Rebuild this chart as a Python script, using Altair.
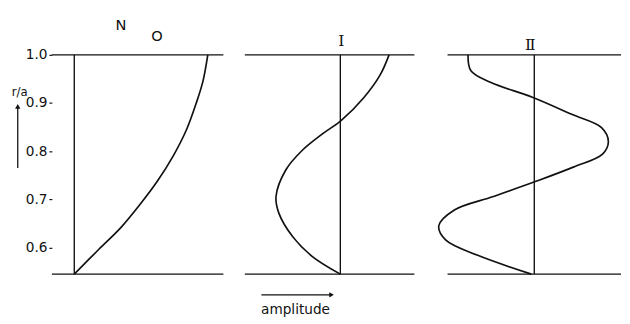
import altair as alt
import pandas as pd

# ---- data ----
R_INNER = 0.545
R_OUTER = 1.0

# mode 0
r0 = [0.545, 0.596, 0.642, 0.691, 0.737, 0.792, 0.844, 0.899, 0.945, 1.0]
a0 = [0, 25, 48, 68, 85, 102, 115, 125, 132, 137]

# mode I
r1 = [1.0, 0.959, 0.911, 0.864, 0.835, 0.802, 0.761, 0.706, 0.671, 0.623, 0.582, 0.545]
a1 = [50, 41, 24, 1, -19, -39, -56, -66, -63, -49, -29, 0]

# mode II
r2 = [1.0, 0.967, 0.943, 0.912, 0.876, 0.849, 0.820, 0.794, 0.767, 0.737,
      0.706, 0.678, 0.645, 0.616, 0.584, 0.545]
a2 = [-68, -65, -45, -2, 39, 69, 76, 70, 40, 1, -42, -82, -98, -91, -58, -3]

tick_values = [0.6, 0.7, 0.8, 0.9, 1.0]

Y_DOMAIN = [0.466, 1.089]
H = 308
FONT = "DejaVu Sans"
SERIF = "DejaVu Serif"
INK = "#111111"

yscale = alt.Scale(domain=Y_DOMAIN, nice=False, zero=False)


def panel(r, a, xdom, width, titles, title_font, title_size, with_axis=False, extras=None):
    xscale = alt.Scale(domain=xdom, nice=False, zero=False)
    if with_axis:
        yaxis = alt.Axis(values=tick_values,
                         labelExpr="datum.value == 1 ? '1.0' : format(datum.value, '.1f')",
                         tickSize=3, labelPadding=2, domain=False, grid=False,
                         title=None, labelFontSize=14, labelFont=FONT,
                         labelColor=INK, tickColor=INK, tickWidth=1.2)
    else:
        yaxis = None

    def Y(f):
        return alt.Y(f, scale=yscale, axis=yaxis)

    def X(f):
        return alt.X(f, scale=xscale, axis=None)

    hl = alt.Chart(pd.DataFrame({"r": [R_OUTER, R_INNER]})).mark_rule(
        color=INK, strokeWidth=1.4).encode(y=Y("r:Q"))

    vl = alt.Chart(pd.DataFrame({"a": [0], "r": [R_INNER], "r2": [R_OUTER]})).mark_rule(
        color=INK, strokeWidth=1.4).encode(x=X("a:Q"), y=Y("r:Q"), y2="r2:Q")

    curve_df = pd.DataFrame({"a": a, "r": r, "i": list(range(len(r)))})
    curve = alt.Chart(curve_df).mark_line(
        interpolate="catmull-rom", color=INK, strokeWidth=1.7).encode(
        x=X("a:Q"), y=Y("r:Q"), order="i:Q")

    tdf = pd.DataFrame(titles)
    txt = alt.Chart(tdf).mark_text(color=INK, fontSize=title_size, font=title_font).encode(
        x=X("a:Q"), y=Y("r:Q"), text="t:N")

    layers = [hl, vl, curve, txt]
    if extras:
        for e in extras:
            layers += e(X, Y)
    return alt.layer(*layers).properties(width=width, height=H)


def ra_marks(X, Y):
    t = alt.Chart(pd.DataFrame({"r": [0.923], "t": ["r/a"]})).mark_text(
        color=INK, fontSize=12, font=FONT).encode(
        x=alt.value(-33), y=Y("r:Q"), text="t:N")
    shaft = alt.Chart(pd.DataFrame({"r": [0.765], "r2": [0.89]})).mark_rule(
        color=INK, strokeWidth=1.3).encode(
        x=alt.value(-35), y=Y("r:Q"), y2="r2:Q")
    head = alt.Chart(pd.DataFrame({"r": [0.893]})).mark_point(
        shape="triangle-up", filled=True, color=INK, size=30, opacity=1).encode(
        x=alt.value(-35), y=Y("r:Q"))
    return [t, shaft, head]


def amp_marks(X, Y):
    shaft = alt.Chart(pd.DataFrame({"a": [-81], "a2": [-10], "r": [0.502]})).mark_rule(
        color=INK, strokeWidth=1.2).encode(x=X("a:Q"), x2="a2:Q", y=Y("r:Q"))
    head = alt.Chart(pd.DataFrame({"a": [-9], "r": [0.502]})).mark_point(
        shape="triangle-right", filled=True, color=INK, size=30, opacity=1).encode(
        x=X("a:Q"), y=Y("r:Q"))
    label = alt.Chart(pd.DataFrame({"a": [-46], "r": [0.470], "t": ["amplitude"]})).mark_text(
        color=INK, fontSize=14, font=FONT).encode(x=X("a:Q"), y=Y("r:Q"), text="t:N")
    return [shaft, head, label]


p0 = panel(r0, a0, [-23, 153], 176,
           {"a": [48, 85], "r": [1.061, 1.038], "t": ["N", "O"]}, FONT, 15,
           with_axis=True, extras=[ra_marks])
p1 = panel(r1, a1, [-98, 76], 174,
           {"a": [1], "r": [1.028], "t": ["I"]}, SERIF, 16,
           extras=[amp_marks])
p2 = panel(r2, a2, [-89, 89], 178,
           {"a": [-4], "r": [1.020], "t": ["Ⅱ"]}, SERIF, 16)

chart = alt.hconcat(p0, p1, p2, spacing=20).properties(
    padding={"left": 3, "top": 0, "right": 0, "bottom": 0}, background="white"
).configure_view(stroke=None)

chart.save("out.html", embed_options={"renderer": "svg", "actions": False})
